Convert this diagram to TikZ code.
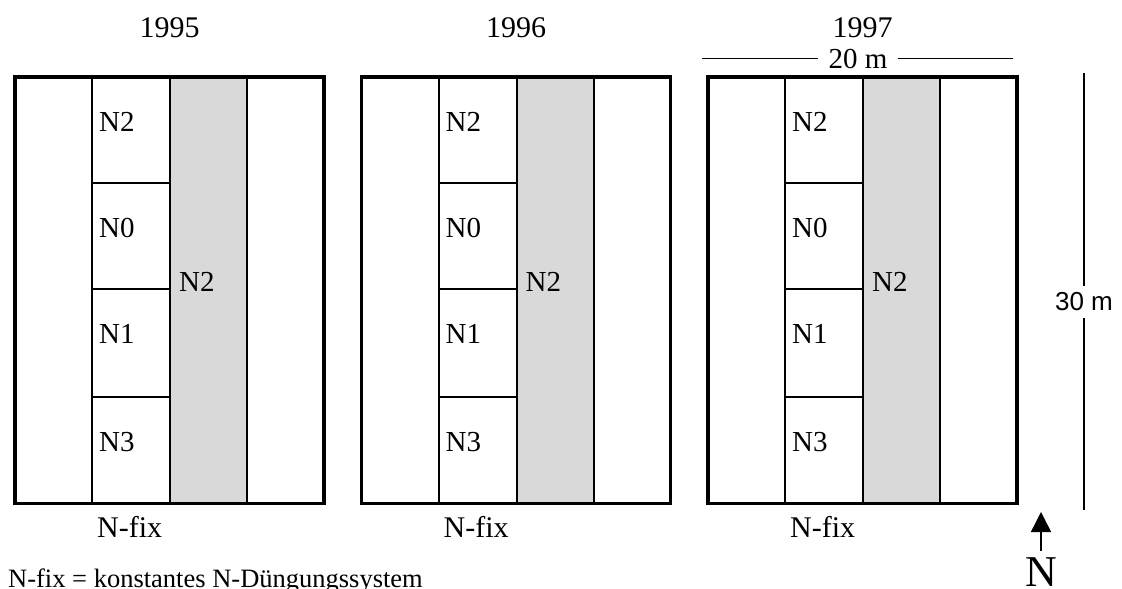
\documentclass[tikz,border=0pt]{standalone}
\usepackage{fontspec}
\setmainfont{Liberation Serif}
\newfontfamily\plotsans{Liberation Sans}
\usetikzlibrary{arrows.meta}
\definecolor{stripgray}{HTML}{D9D9D9}
\begin{document}
\begin{tikzpicture}[x=1pt,y=-1pt,
  frame/.style={line width=3.5pt},
  divider/.style={line width=2pt},
  measure/.style={line width=1.4pt},
  cell/.style={inner sep=0pt, anchor=base west, font=\fontsize{29}{34}\selectfont},
  year/.style={inner sep=0pt, anchor=base, font=\fontsize{30}{36}\selectfont},
  fixlabel/.style={inner sep=0pt, anchor=base west, font=\fontsize{30}{36}\selectfont},
]
\useasboundingbox (0,0) rectangle (1122,589);

% three yearly plots: left edge / year / name prefix
\foreach \L/\yr/\k in {15/1995/a, 361.5/1996/b, 708/1997/c} {
  % constant-fertilisation strip
  \fill[stripgray] (\L+155,77) rectangle (\L+232,503.5);
  % column dividers
  \draw[divider] (\L+77,77) -- (\L+77,503.5);
  \draw[divider] (\L+155,77) -- (\L+155,503.5);
  \draw[divider] (\L+232,77) -- (\L+232,503.5);
  % sub-plot dividers of the N-level column
  \draw[divider] (\L+77,183) -- (\L+155,183);
  \draw[divider] (\L+77,289) -- (\L+155,289);
  \draw[divider] (\L+77,397) -- (\L+155,397);
  % plot frame
  \draw[frame] (\L,77) rectangle (\L+309,503.5);
  % labels
  \node[year] (\k-year) at (\L+154.5,37) {\yr};
  \node[cell] (\k-n2) at (\L+84,131) {N2};
  \node[cell] (\k-n0) at (\L+84,237) {N0};
  \node[cell] (\k-n1) at (\L+84,343) {N1};
  \node[cell] (\k-n3) at (\L+84,451) {N3};
  \node[cell] (\k-strip) at (\L+164,291) {N2};
  \node[fixlabel] (\k-fix) at (\L+82,537) {N-fix};
}

% width dimension
\node[inner sep=0pt, minimum width=79pt, minimum height=20pt,
      font=\fontsize{29}{34}\selectfont] (twenty) at (858,58.5) {20 m};
\coordinate (w-left) at (702,58.5);
\coordinate (w-right) at (1013,58.5);
\draw[measure] (w-left) -- (twenty);
\draw[measure] (twenty) -- (w-right);

% length dimension
\node[inner sep=0pt, minimum width=60pt, minimum height=32pt,
      font=\plotsans\fontsize{26}{31}\selectfont] (thirty) at (1084,302) {30 m};
\coordinate (t-top) at (1084,73);
\coordinate (t-bottom) at (1084,510);
\draw[measure] (t-top) -- (thirty);
\draw[measure] (thirty) -- (t-bottom);

% north arrow
\node[inner xsep=0pt, inner ysep=7pt, font=\fontsize{44}{50}\selectfont] (north) at (1041,572.5) {N};
\coordinate (north-tip) at (1041,512);
\draw[line width=1.5pt, -{Triangle[width=20pt,length=20pt]}] (north) -- (north-tip);

% legend
\node[inner sep=0pt, anchor=base west, font=\fontsize{26.5}{32}\selectfont] (legend) at (8,587.5)
  {N-fix = konstantes N-Düngungssystem};
\end{tikzpicture}
\end{document}
